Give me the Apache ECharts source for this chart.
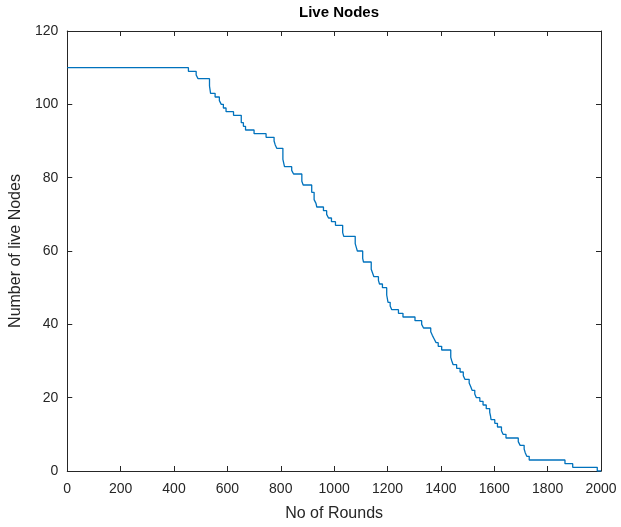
<!DOCTYPE html>
<html><head><meta charset="utf-8">
<script src="https://cdn.jsdelivr.net/npm/echarts@6/dist/echarts.min.js"></script>
<style>html,body{margin:0;padding:0;background:#fff}#c{width:621px;height:527px}</style>
</head><body><div id="c"></div>
<script>
const titleText = 'Live Nodes';
const xName = 'No of Rounds';
const yName = 'Number of live Nodes';
const rounds = [0,454,483,490,533,537,554,570,577,585,595,623,652,660,668,700,745,775,779,785,808,814,841,848,879,884,916,925,932,935,960,972,979,990,1005,1032,1036,1079,1083,1087,1107,1110,1139,1144,1149,1166,1170,1181,1197,1202,1210,1216,1241,1258,1303,1328,1335,1362,1368,1375,1382,1390,1403,1437,1441,1446,1459,1472,1484,1490,1506,1512,1517,1527,1533,1546,1558,1570,1583,1586,1588,1602,1612,1627,1633,1644,1690,1697,1712,1716,1722,1731,1865,1894,1986,2000];
const liveNodes = [110,109,108,107,105,103,102,101,100,99,98,97,95,94,93,92,91,90,89,88,85,83,82,81,79,78,76,74,73,72,71,70,69,68,67,65,64,62,61,60,58,57,55,54,53,52,51,50,48,46,45,44,43,42,41,40,39,38,37,36,35,34,33,31,30,29,28,27,26,25,24,23,22,21,20,19,18,17,16,15,14,13,12,11,10,9,8,7,6,5,4,3,2,1,0,0];

const data = rounds.map((r,i)=>[r, liveNodes[i]]);
const axisCol = '#262626';
const font = 'Liberation Sans, Arial, Helvetica, sans-serif';
const chart = echarts.init(document.getElementById('c'), null, {renderer:'canvas'});
const commonX = {type:'value', min:0, max:2000, interval:200};
const commonY = {type:'value', min:0, max:120, interval:20};
chart.setOption({
  animation:false,
  backgroundColor:'#fff',
  title:{text:titleText, left:334, top:0, textAlign:'center',
    textStyle:{fontFamily:font, fontSize:15, fontWeight:'bold', color:'#000'}},
  grid:{left:67, right:20, top:31, bottom:55},
  xAxis:[
    Object.assign({}, commonX, {position:'bottom', name:xName, nameLocation:'middle', nameGap:35,
      nameTextStyle:{fontFamily:font, fontSize:16, color:axisCol},
      axisLine:{show:true, lineStyle:{color:axisCol, width:1}},
      axisTick:{show:true, inside:true, length:5, lineStyle:{color:axisCol}},
      axisLabel:{fontFamily:font, fontSize:14, color:axisCol, margin:11, formatter:v=>String(v)},
      splitLine:{show:false}}),
    Object.assign({}, commonX, {position:'top',
      axisLine:{show:true, onZero:false, lineStyle:{color:axisCol, width:1}},
      axisTick:{show:true, inside:true, length:5, lineStyle:{color:axisCol}},
      axisLabel:{show:false}, splitLine:{show:false}})
  ],
  yAxis:[
    Object.assign({}, commonY, {position:'left', name:yName, nameLocation:'middle', nameGap:34,
      nameTextStyle:{fontFamily:font, fontSize:16, color:axisCol},
      axisLine:{show:true, lineStyle:{color:axisCol, width:1}},
      axisTick:{show:true, inside:true, length:5, lineStyle:{color:axisCol}},
      axisLabel:{fontFamily:font, fontSize:14, color:axisCol, margin:9, formatter:v=>String(v)},
      splitLine:{show:false}}),
    Object.assign({}, commonY, {position:'right',
      axisLine:{show:true, onZero:false, lineStyle:{color:axisCol, width:1}},
      axisTick:{show:true, inside:true, length:5, lineStyle:{color:axisCol}},
      axisLabel:{show:false}, splitLine:{show:false}})
  ],
  series:[{type:'line', step:'end', data:data, xAxisIndex:0, yAxisIndex:0,
    showSymbol:false, lineStyle:{color:'#0072BD', width:1.3}, itemStyle:{color:'#0072BD'}}]
});
</script></body></html>
